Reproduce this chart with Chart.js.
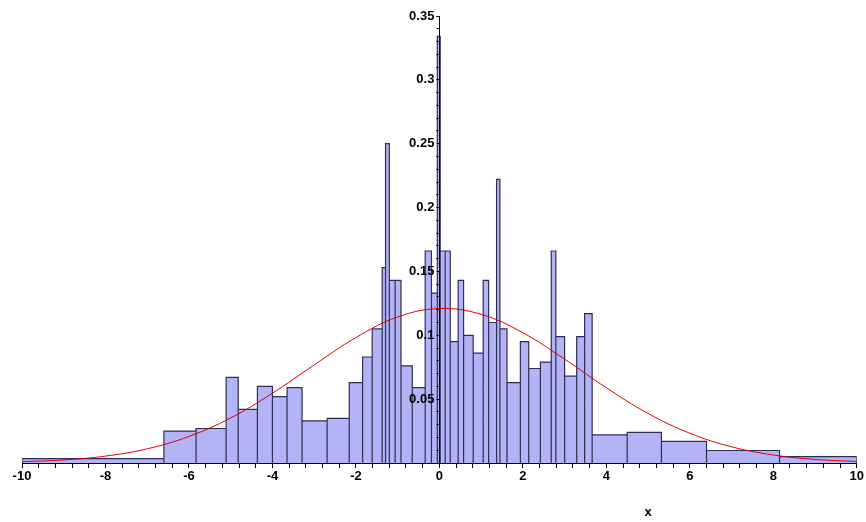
<!DOCTYPE html>
<html>
<head>
<meta charset="utf-8">
<script src="https://cdn.jsdelivr.net/npm/chart.js@4"></script>
<style>
  html, body { margin: 0; padding: 0; background: #fff; }
  #wrap { width: 866px; height: 522px; }
</style>
</head>
<body>
<div id="wrap"><canvas id="chart" width="866" height="522"></canvas></div>
<script>
// histogram bins (edges) and their heights
const binEdges = [-10, -6.60, -5.83, -5.11, -4.82, -4.36, -4.00, -3.65, -3.29, -2.69, -2.16,
    -1.84, -1.61, -1.37, -1.29, -1.20, -1.06, -0.92, -0.65, -0.34, -0.19, -0.05, 0.02,
    0.14, 0.26, 0.45, 0.58, 0.81, 1.05, 1.18, 1.37, 1.45, 1.62, 1.94, 2.14, 2.42, 2.68,
    2.79, 3.00, 3.29, 3.48, 3.66, 4.50, 5.32, 6.40, 8.15, 10];
const binHeights = [0.0035, 0.025, 0.027, 0.067, 0.042, 0.060, 0.052, 0.059, 0.033, 0.035,
    0.063, 0.083, 0.105, 0.153, 0.250, 0.143, 0.143, 0.076, 0.059, 0.166, 0.133, 0.334,
    0.166, 0.166, 0.095, 0.143, 0.100, 0.086, 0.143, 0.110, 0.222, 0.105, 0.063, 0.095,
    0.074, 0.079, 0.166, 0.099, 0.068, 0.099, 0.117, 0.022, 0.024, 0.017, 0.0098, 0.005];

// red density curve
const curveX = [-10, -9, -8, -7, -6, -5, -4, -3, -2, -1, 0, 1, 2, 3, 4, 5, 6, 7, 8, 9, 10];
const curveY = [0.001, 0.0024, 0.0054, 0.0111, 0.0208, 0.0353, 0.0546, 0.0768, 0.0982, 0.1143,
    0.1209, 0.1164, 0.102, 0.0813, 0.0589, 0.0388, 0.0233, 0.0127, 0.0063, 0.0028, 0.0012];

const xAxisTitle = 'x';

const histPoints = [];
binHeights.forEach((h, i) => {
    histPoints.push({x: binEdges[i], y: 0});
    histPoints.push({x: binEdges[i], y: h});
    histPoints.push({x: binEdges[i + 1], y: h});
    histPoints.push({x: binEdges[i + 1], y: 0});
});
const curvePoints = curveX.map((x, i) => ({x: x, y: curveY[i]}));

const tickFont = {family: 'Liberation Sans', size: 13, weight: 'bold'};

// move the y axis so it crosses the x axis at x = 0 (labels stay on its left)
const yAxisAtZero = {
    id: 'yAxisAtZero',
    afterLayout(chart) {
        const y = chart.scales.y;
        const x0 = chart.scales.x.getPixelForValue(0);
        y.left = x0 - 40;
        y.right = x0;
        y.width = 40;
    }
};

// axis label "x" sits under the axis at x = 5, like the original plot
const axisTitlePlugin = {
    id: 'axisTitle',
    afterDraw(chart) {
        const c = chart.ctx;
        c.save();
        c.font = 'bold 13px "Liberation Sans"';
        c.fillStyle = '#000';
        c.textAlign = 'center';
        c.textBaseline = 'middle';
        c.fillText(xAxisTitle, chart.scales.x.getPixelForValue(5), chart.chartArea.bottom + 49);
        c.restore();
    }
};

new Chart(document.getElementById('chart').getContext('2d'), {
    type: 'line',
    data: {
        datasets: [{
            data: curvePoints,
            borderColor: 'rgb(220, 0, 0)',
            borderWidth: 1,
            pointRadius: 0,
            tension: 0.4,
            fill: false,
            order: 0
        }, {
            data: histPoints,
            borderColor: '#2e2e50',
            borderWidth: 1.2,
            backgroundColor: '#b3b3f8',
            pointRadius: 0,
            tension: 0,
            fill: 'origin',
            order: 1
        }]
    },
    plugins: [yAxisAtZero, axisTitlePlugin],
    options: {
        responsive: false,
        animation: false,
        layout: {padding: {left: 22, right: 9, top: 16, bottom: 59}},
        plugins: {legend: {display: false}, tooltip: {enabled: false}},
        scales: {
            x: {
                type: 'linear',
                min: -10,
                max: 10,
                position: {y: 0},
                afterFit: s => { s.height = 0; },
                border: {display: true, color: '#000', width: 1, z: 1},
                grid: {drawOnChartArea: false, drawTicks: true, tickLength: 4, color: '#000', z: 1},
                ticks: {
                    z: 1,
                    stepSize: 0.4,
                    autoSkip: false,
                    maxRotation: 0,
                    padding: 2,
                    color: '#000',
                    font: tickFont,
                    callback: v => (Math.abs(Math.round(v * 10) % 20) === 0 ? String(Math.round(v)) : '')
                }
            },
            y: {
                type: 'linear',
                min: 0,
                max: 0.35,
                position: 'left',
                afterFit: s => { s.width = 0; },
                border: {display: true, color: '#000', width: 1, z: 1},
                grid: {drawOnChartArea: false, drawTicks: true, tickLength: 3, color: '#000', z: 1},
                ticks: {
                    z: 1,
                    stepSize: 0.01,
                    autoSkip: false,
                    padding: 2,
                    color: '#000',
                    font: tickFont,
                    callback: v => {
                        const k = Math.round(v * 100);
                        if (k === 0 || k % 5 !== 0) return '';
                        return String(k / 100);
                    }
                }
            }
        }
    }
});
</script>
</body>
</html>
